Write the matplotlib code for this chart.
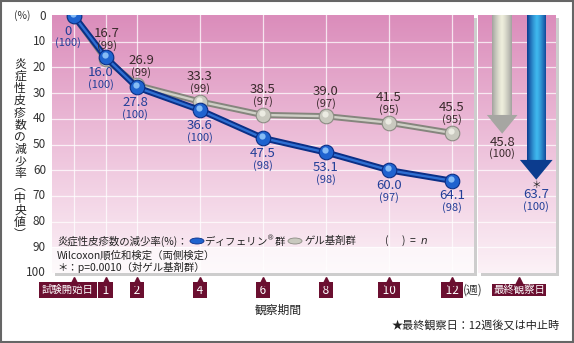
import numpy as np
import matplotlib
matplotlib.use('Agg')
import matplotlib.pyplot as plt
import matplotlib.transforms as mtransforms
from matplotlib.patches import Rectangle, Polygon, Ellipse

plt.rcParams['font.family'] = ['Noto Sans CJK JP', 'DejaVu Sans']

# ---------------- data ----------------
weeks = [0, 1, 2, 4, 6, 8, 10, 12]
week_labels = ['試験開始日', '1', '2', '4', '6', '8', '10', '12']
differin = [0, 16.0, 27.8, 36.6, 47.5, 53.1, 60.0, 64.1]
differin_n = [100, 100, 100, 100, 98, 98, 97, 98]
gel = [0, 16.7, 26.9, 33.3, 38.5, 39.0, 41.5, 45.5]
gel_n = [100, 99, 99, 99, 97, 97, 95, 95]
final_groups = ['ゲル基剤群', 'ディフェリン群']
final_values = [45.8, 63.7]
final_n = [100, 100]
yticks = [0, 10, 20, 30, 40, 50, 60, 70, 80, 90, 100]

W, H = 574, 343
fig = plt.figure(figsize=(W / 100, H / 100), dpi=100)
fig.patch.set_facecolor('white')


def fx(px):
    return px / W


def fy(py):
    return 1 - py / H


TOP, BOT = 15, 273
L1, R1 = 52, 474
L2, R2 = 478, 556

MAROON = '#6b0f30'
BLUE_T = '#233f98'
GRAY_T = '#3a2a2c'


def grad_img(n=256):
    top = np.array([219, 141, 187]) / 255
    mid = np.array([237, 192, 218]) / 255
    bot = np.array([252, 242, 247]) / 255
    t = np.linspace(0, 1, n)[:, None]
    c = np.where(t < 0.5, top + (mid - top) * (t / 0.5), mid + (bot - mid) * ((t - 0.5) / 0.5))
    return c[:, None, :] * np.ones((1, 2, 1))


# shadows
for (l, r) in [(L1, R1), (L2, R2)]:
    fig.add_artist(Rectangle((fx(l + 3), fy(BOT + 3)), fx(r) - fx(l), fy(TOP + 3) - fy(BOT + 3),
                             transform=fig.transFigure, fc='#cdcdcd', ec='none', zorder=-5))

ax = fig.add_axes([fx(L1), fy(BOT), fx(R1) - fx(L1), fy(TOP) - fy(BOT)])
ax2 = fig.add_axes([fx(L2), fy(BOT), fx(R2) - fx(L2), fy(TOP) - fy(BOT)])
ax.set_zorder(1)
ax2.set_zorder(1)

for a in (ax, ax2):
    a.imshow(grad_img(), extent=(0, 1, 0, 1), transform=a.transAxes, aspect='auto', zorder=0)
    a.set_ylim(100, -0.4)
    for s in a.spines.values():
        s.set_visible(False)
    a.set_xticks([])
    a.set_yticks([])
    for yv in yticks[1:-1]:
        a.axhline(yv, color='white', lw=0.9, alpha=0.75, zorder=1)

ax.set_xlim(-0.7, 12.7)
for w in weeks:
    ax.axvline(w, color='white', lw=0.9, alpha=0.75, zorder=1)

# legend box (white translucent)
ax.add_patch(Rectangle((0, 0), 1, (100 - 89.8) / 100.4, transform=ax.transAxes,
                       fc='white', ec='none', alpha=0.6, zorder=2))

# y tick labels
tr_y = mtransforms.blended_transform_factory(fig.transFigure, ax.transData)
for yv in yticks:
    fig.text(fx(46), yv, str(yv), ha='right', va='center', fontsize=8.5, color='#333333', transform=tr_y)
fig.text(fx(22), fy(16), '(%)', ha='center', va='center', fontsize=7.5, color='#333333')

# vertical y-label
ylab = '炎症性皮疹数の減少率︵中央値︶'
ypos = 64
for ch in ylab:
    fig.text(fx(20), fy(ypos), ch, ha='center', va='center', fontsize=8.5, color='#222222')
    ypos += 12.2


def sphere(a, xs, ys, face, edge, hi, z):
    a.plot(xs, ys, 'o', ms=10.5, mfc=face, mec=edge, mew=0.8, zorder=z)
    off = mtransforms.offset_copy(a.transData, fig=fig, x=-1, y=2, units='dots')
    a.plot(xs, ys, 'o', ms=4.5, mfc=hi, mec='none', alpha=0.8, zorder=z + 0.1, transform=off)


ax.plot(weeks, gel, color='#85857d', lw=4.5, zorder=3, solid_capstyle='round')
ax.plot(weeks, gel, color='#cfcfc6', lw=1.7, zorder=3.1)
sphere(ax, weeks, gel, '#c9c9bf', '#8c8c84', '#f4f4ec', 3.2)

ax.plot(weeks, differin, color='#0b2f86', lw=4.5, zorder=4, solid_capstyle='round')
ax.plot(weeks, differin, color='#2f6fd2', lw=1.7, zorder=4.1)
sphere(ax, weeks, differin, '#1f63cf', '#0b2f86', '#9fd2ff', 4.2)

# data labels
blue_dx = [-6, -5, -2, 0, 0, 0, 0, 0]
gray_dx = [0, 1, 4, 0, 0, 0, 0, 0]
for i, w in enumerate(weeks):
    ax.annotate(f'{differin[i]:.1f}' if differin[i] != 0 else '0', (w, differin[i]),
                xytext=(blue_dx[i], -15), textcoords='offset pixels', ha='center', va='center',
                fontsize=9.5, color=BLUE_T, zorder=6)
    ax.annotate(f'({differin_n[i]})', (w, differin[i]), xytext=(blue_dx[i], -27),
                textcoords='offset pixels', ha='center', va='center', fontsize=8, color=BLUE_T, zorder=6)
    if i == 0:
        continue
    ax.annotate(f'{gel[i]:.1f}', (w, gel[i]), xytext=(gray_dx[i], 25), textcoords='offset pixels',
                ha='center', va='center', fontsize=9.5, color=GRAY_T, zorder=6)
    ax.annotate(f'({gel_n[i]})', (w, gel[i]), xytext=(gray_dx[i], 13), textcoords='offset pixels',
                ha='center', va='center', fontsize=8, color=GRAY_T, zorder=6)

# legend texts
fig.text(fx(57), fy(241), '炎症性皮疹数の減少率(%)：', ha='left', va='center', fontsize=7.5, color='#222222', zorder=5)
fig.add_artist(Ellipse((fx(197), fy(241)), fx(14), fy(0) - fy(6), transform=fig.transFigure,
                       fc='#1f63cf', ec='#0b2f86', lw=0.6, zorder=5))
fig.text(fx(204), fy(241), 'ディフェリン$^{®}$群', ha='left', va='center', fontsize=7.5, color='#222222', zorder=5)
fig.add_artist(Ellipse((fx(295), fy(241)), fx(14), fy(0) - fy(6), transform=fig.transFigure,
                       fc='#c9c9bf', ec='#8c8c84', lw=0.6, zorder=5))
fig.text(fx(305), fy(241), 'ゲル基剤群', ha='left', va='center', fontsize=7.5, color='#222222', zorder=5)
fig.text(fx(384), fy(241), '(      )  =  $\\it{n}$', ha='left', va='center', fontsize=7.5, color='#222222', zorder=5)
fig.text(fx(57), fy(256), 'Wilcoxon順位和検定（両側検定）', ha='left', va='center', fontsize=7.5, color='#222222', zorder=5)
fig.text(fx(57), fy(267), '＊：p=0.0010（対ゲル基剤群）', ha='left', va='center', fontsize=7.5, color='#222222', zorder=5)

# x tick boxes
tr_x = mtransforms.blended_transform_factory(ax.transData, fig.transFigure)
for w, lab in zip(weeks, week_labels):
    if w == 0:
        ax.text(w - 6 / 31.5, fy(290), lab, transform=tr_x, ha='center', va='center', fontsize=7.5,
                color='white', bbox=dict(boxstyle='square,pad=0.3', fc=MAROON, ec='none'),
                clip_on=False, zorder=10)
    else:
        ax.text(w, fy(290), f' {lab} ', transform=tr_x, ha='center', va='center', fontsize=8.5,
                color='white', bbox=dict(boxstyle='square,pad=0.12', fc=MAROON, ec='none'),
                clip_on=False, zorder=10)
    ax.plot([w], [fy(280.5)], marker='^', ms=6, color=MAROON, transform=tr_x, clip_on=False, zorder=10)
fig.text(fx(463), fy(290), '(週)', ha='left', va='center', fontsize=8.5, color='#333333')


def arrow(a, xc, val, shaft_hw, head_hw, head_len, c_edge, c_mid, c_head):
    ytop = -0.4
    base = val - head_len
    shaft = Polygon([(xc - shaft_hw, ytop), (xc + shaft_hw, ytop), (xc + shaft_hw, base),
                     (xc - shaft_hw, base)], closed=True, fc='none', ec='none')
    a.add_patch(shaft)
    e = np.array(matplotlib.colors.to_rgb(c_edge))
    m = np.array(matplotlib.colors.to_rgb(c_mid))
    t = np.abs(np.linspace(-1, 1, 64))[None, :, None]
    g = m + (e - m) * t ** 1.3
    g = g * np.ones((64, 1, 1))
    im = a.imshow(g, extent=(xc - shaft_hw, xc + shaft_hw, base, ytop), aspect='auto', zorder=3)
    im.set_clip_path(shaft)
    head = Polygon([(xc - head_hw, base), (xc + head_hw, base), (xc, val)], closed=True,
                   fc=c_head, ec='none', zorder=3.5)
    a.add_patch(head)


arrow(ax2, 0, final_values[0], 0.29, 0.45, 7.3, '#a3a39f', '#eeeedc', '#a6a6a2')
arrow(ax2, 1, final_values[1], 0.28, 0.48, 7.7, '#0b3a8f', '#3fb8ee', '#0c3c8e')
ax2.set_xlim(-0.71, 1.58)
ax2.set_ylim(100, -0.4)

ax2.annotate(f'{final_values[0]:.1f}', (0, final_values[0]), xytext=(0, -9), textcoords='offset pixels',
             ha='center', va='center', fontsize=9.5, color=GRAY_T, zorder=6)
ax2.annotate(f'({final_n[0]})', (0, final_values[0]), xytext=(0, -20), textcoords='offset pixels',
             ha='center', va='center', fontsize=8, color=GRAY_T, zorder=6)
ax2.annotate('＊', (1, final_values[1]), xytext=(0, -5), textcoords='offset pixels',
             ha='center', va='center', fontsize=7, color='#222222', zorder=6)
ax2.annotate(f'{final_values[1]:.1f}', (1, final_values[1]), xytext=(0, -15), textcoords='offset pixels',
             ha='center', va='center', fontsize=9.5, color=BLUE_T, zorder=6)
ax2.annotate(f'({final_n[1]})', (1, final_values[1]), xytext=(0, -27), textcoords='offset pixels',
             ha='center', va='center', fontsize=8, color=BLUE_T, zorder=6)

tr_x2 = mtransforms.blended_transform_factory(ax2.transData, fig.transFigure)
ax2.text(0.5, fy(290), '最終観察日', transform=tr_x2, ha='center', va='center', fontsize=7.5,
         color='white', bbox=dict(boxstyle='square,pad=0.12', fc=MAROON, ec='none'), clip_on=False, zorder=10)
ax2.plot([0.5], [fy(280.5)], marker='^', ms=6, color=MAROON, transform=tr_x2, clip_on=False, zorder=10)

fig.text(fx(278), fy(310), '観察期間', ha='center', va='center', fontsize=8.5, color='#222222')
fig.text(fx(560), fy(325), '★最終観察日：12週後又は中止時', ha='right', va='center', fontsize=8, color='#222222')

# outer border
fig.add_artist(Rectangle((0.001, 0.002), 0.997, 0.995, transform=fig.transFigure, fc='none',
                         ec='#666666', lw=1.5, zorder=20))

fig.savefig('out.png', dpi=100)
